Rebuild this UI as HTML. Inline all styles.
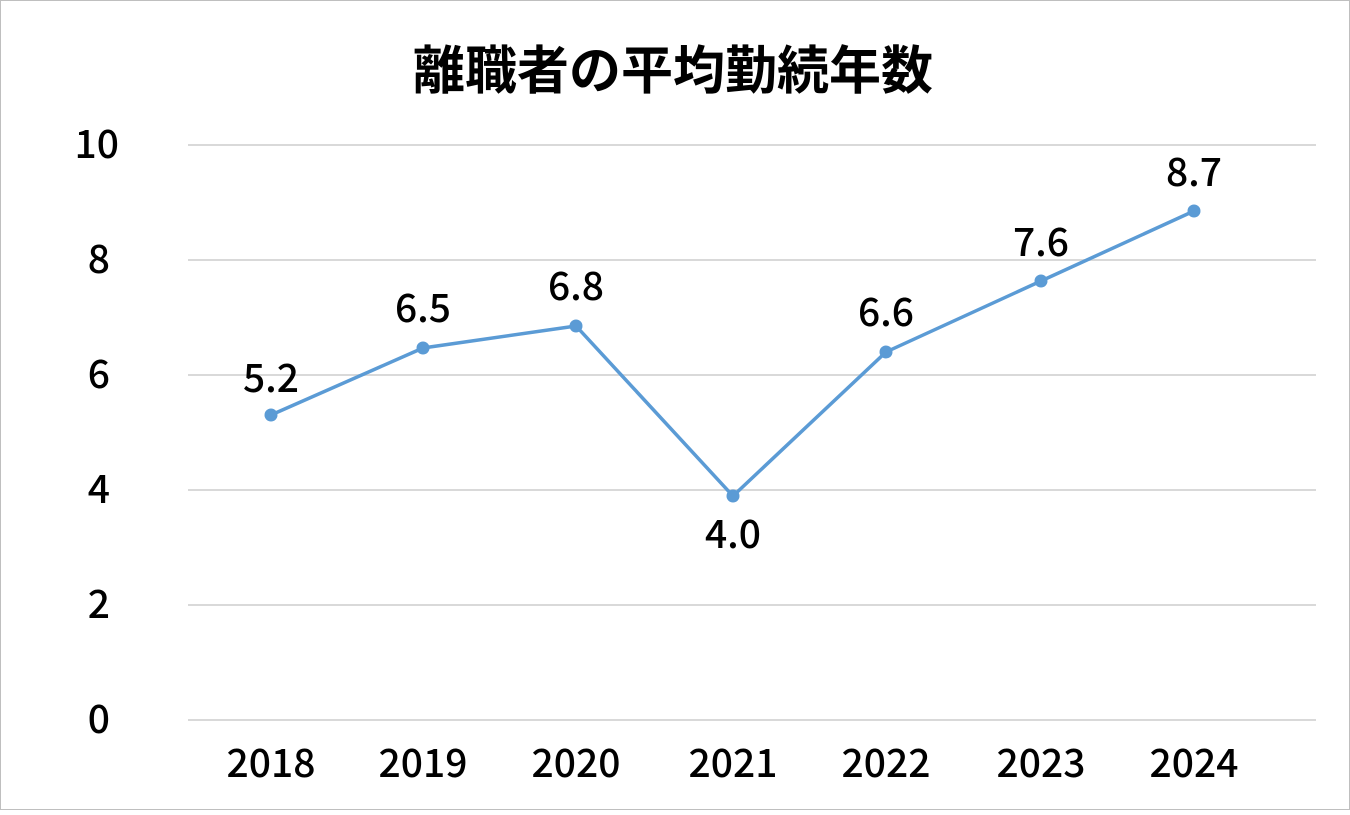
<!DOCTYPE html>
<html><head><meta charset="utf-8"><style>
body{margin:0;background:#fff}
svg text{font-family:"Noto Sans CJK JP","Liberation Sans",sans-serif;fill:#000}
</style></head><body>
<svg width="1350" height="810" xmlns="http://www.w3.org/2000/svg">
<rect x="0.5" y="0.5" width="1349" height="809" fill="#fff" stroke="#bfbfbf"/>
<text x="673" y="89" font-size="52" font-weight="bold" text-anchor="middle">離職者の平均勤続年数</text>
<g stroke="#d9d9d9" stroke-width="2">
<line x1="188" y1="145" x2="1316" y2="145"/><line x1="188" y1="260" x2="1316" y2="260"/>
<line x1="188" y1="375" x2="1316" y2="375"/><line x1="188" y1="490" x2="1316" y2="490"/>
<line x1="188" y1="605" x2="1316" y2="605"/><line x1="188" y1="720" x2="1316" y2="720"/>
</g>
<g font-size="39" font-weight="500" text-anchor="end">
<text x="119" y="158">10</text><text x="110" y="273">8</text><text x="110" y="388">6</text>
<text x="110" y="503">4</text><text x="110" y="618">2</text><text x="110" y="733">0</text>
</g>
<g font-size="39" font-weight="500" text-anchor="middle">
<text x="271" y="777">2018</text><text x="423" y="777">2019</text><text x="576" y="777">2020</text>
<text x="733" y="777">2021</text><text x="886" y="777">2022</text><text x="1041" y="777">2023</text><text x="1194" y="777">2024</text>
</g>
<polyline points="271,415 423,348 576,326 733,496 886,352 1041,281 1194,211" fill="none" stroke="#5b9bd5" stroke-width="3.5"/>
<g fill="#5b9bd5">
<circle cx="271" cy="415" r="6.5"/><circle cx="423" cy="348" r="6.5"/><circle cx="576" cy="326" r="6.5"/>
<circle cx="733" cy="496" r="6.5"/><circle cx="886" cy="352" r="6.5"/><circle cx="1041" cy="281" r="6.5"/><circle cx="1194" cy="211" r="6.5"/>
</g>
<g font-size="39" font-weight="500" text-anchor="middle">
<text x="271" y="392">5.2</text><text x="423" y="322">6.5</text><text x="576" y="300">6.8</text>
<text x="733" y="548">4.0</text><text x="886" y="326">6.6</text><text x="1041" y="256">7.6</text><text x="1194" y="186">8.7</text>
</g>
</svg>
</body></html>
